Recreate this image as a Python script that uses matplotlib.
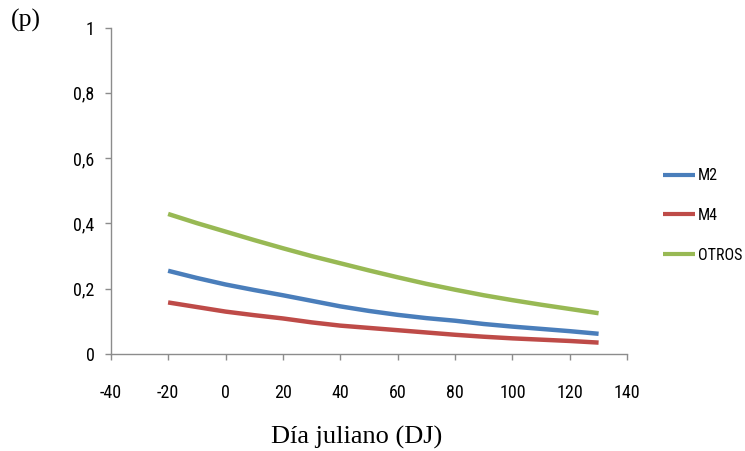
import matplotlib
matplotlib.use('Agg')
import matplotlib.pyplot as plt
from matplotlib import font_manager
from matplotlib.ticker import FuncFormatter

# data
dj = [-20, -10, 0, 10, 20, 30, 40, 50, 60, 70, 80, 90, 100, 110, 120, 130]
m2 = [0.255, 0.233, 0.213, 0.196, 0.180, 0.163, 0.146, 0.132, 0.120, 0.110,
      0.102, 0.092, 0.084, 0.077, 0.070, 0.062]
m4 = [0.158, 0.144, 0.130, 0.119, 0.109, 0.097, 0.087, 0.080, 0.073, 0.066,
      0.059, 0.053, 0.048, 0.044, 0.040, 0.035]
otros = [0.429, 0.401, 0.375, 0.349, 0.324, 0.300, 0.278, 0.256, 0.235, 0.215,
         0.197, 0.180, 0.165, 0.151, 0.138, 0.125]
series = [('M2', m2, '#4A7EBB'), ('M4', m4, '#BE4B48'), ('OTROS', otros, '#98B954')]
xticks = [-40, -20, 0, 20, 40, 60, 80, 100, 120, 140]
yticks = [0, 0.2, 0.4, 0.6, 0.8, 1]

plt.rcParams['axes.unicode_minus'] = False

available = {f.name for f in font_manager.fontManager.ttflist}
narrow = 'DejaVu Sans'
for name in ['Liberation Sans Narrow', 'DejaVu Sans Condensed', 'Roboto Condensed']:
    if name in available:
        narrow = name
        break
serif = 'Liberation Serif' if 'Liberation Serif' in available else 'DejaVu Serif'

fig = plt.figure(figsize=(7.45, 4.51), dpi=100)
ax = fig.add_axes([0.1486, 0.215, 0.6934, 0.724])

for label, vals, color in series:
    ax.plot(dj, vals, color=color, lw=3.2, label=label, solid_capstyle='butt')

ax.set_xlim(-40, 140)
ax.set_ylim(0, 1)
ax.set_xticks(xticks)
ax.set_yticks(yticks)
ax.yaxis.set_major_formatter(FuncFormatter(lambda v, p: ('%g' % v).replace('.', ',')))

grey = '#8c8c8c'
for s in ['top', 'right']:
    ax.spines[s].set_visible(False)
for s in ['left', 'bottom']:
    ax.spines[s].set_color(grey)
    ax.spines[s].set_linewidth(1)
ax.tick_params(axis='both', colors=grey, length=4.5, width=1, labelcolor='black',
               labelsize=13)
ax.tick_params(axis='x', pad=17)
ax.tick_params(axis='y', pad=7)
for t in ax.get_xticklabels() + ax.get_yticklabels():
    t.set_fontfamily(narrow)

fig.text(0.479, 0.031, 'Día juliano (DJ)', family=serif, fontsize=19,
         ha='center', va='center')
fig.text(0.015, 0.955, '(p)', family=serif, fontsize=18.5, ha='left', va='center')

leg = fig.legend(loc='center left', bbox_to_anchor=(0.882, 0.522), frameon=False,
                 prop={'family': narrow, 'size': 11.5}, handlelength=2.0,
                 handletextpad=0.15, labelspacing=1.55, borderaxespad=0)
for h in leg.get_lines():
    h.set_linewidth(3)

fig.savefig('out.png', dpi=100)
